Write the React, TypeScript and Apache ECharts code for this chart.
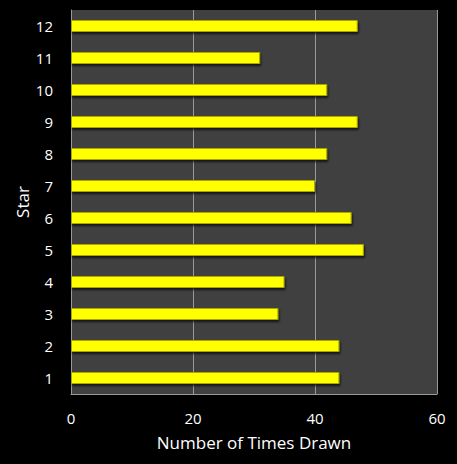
import React, { useEffect, useRef } from 'react';
import * as echarts from 'echarts';

const stars = ['1', '2', '3', '4', '5', '6', '7', '8', '9', '10', '11', '12'];
const timesDrawn = [44, 44, 34, 35, 48, 46, 40, 42, 47, 42, 31, 47];

const App = () => {
  const chartRef = useRef<HTMLDivElement>(null);

  useEffect(() => {
    if (!chartRef.current) return;
    document.body.style.margin = '0';
    document.body.style.background = '#000000';
    const chart = echarts.init(chartRef.current, null, { renderer: 'svg' });

    const font = "'Open Sans', 'DejaVu Sans', sans-serif";

    const option: echarts.EChartsOption = {
      animation: false,
      backgroundColor: '#000000',
      grid: {
        left: 71,
        right: 20,
        top: 10,
        bottom: 70,
        show: true,
        backgroundColor: '#404040',
        borderWidth: 0
      },
      xAxis: {
        type: 'value',
        min: 0,
        max: 60,
        interval: 20,
        name: 'Number of Times Drawn',
        nameLocation: 'middle',
        nameGap: 40,
        nameTextStyle: { color: '#ffffff', fontSize: 17, fontFamily: font },
        axisLine: { show: true, lineStyle: { color: '#9a9a9a', width: 1 } },
        axisTick: { show: false },
        axisLabel: { color: '#ffffff', fontSize: 15, fontFamily: font, margin: 16 },
        splitLine: { show: true, lineStyle: { color: '#9a9a9a', width: 1 } }
      },
      yAxis: {
        type: 'category',
        data: stars,
        name: 'Star',
        nameLocation: 'middle',
        nameGap: 40,
        nameMoveOverlap: false,
        nameTextStyle: { color: '#ffffff', fontSize: 17, fontFamily: font },
        axisLine: { show: true, lineStyle: { color: '#9a9a9a', width: 1 } },
        axisTick: { show: false },
        axisLabel: { color: '#ffffff', fontSize: 15, fontFamily: font, margin: 18 },
        splitLine: { show: false }
      },
      series: [
        {
          type: 'bar',
          data: timesDrawn,
          barWidth: 12,
          itemStyle: {
            color: '#ffff00',
            borderColor: '#a8a800',
            borderWidth: 1,
            shadowColor: 'rgba(0,0,0,0.7)',
            shadowOffsetY: 2,
            shadowOffsetX: 1,
            shadowBlur: 2
          }
        }
      ]
    };

    chart.setOption(option);
    return () => {
      chart.dispose();
    };
  }, []);

  return (
    <div
      ref={chartRef}
      style={{ position: 'fixed', left: 0, top: 0, width: 457, height: 464 }}
    />
  );
};

export default App;
